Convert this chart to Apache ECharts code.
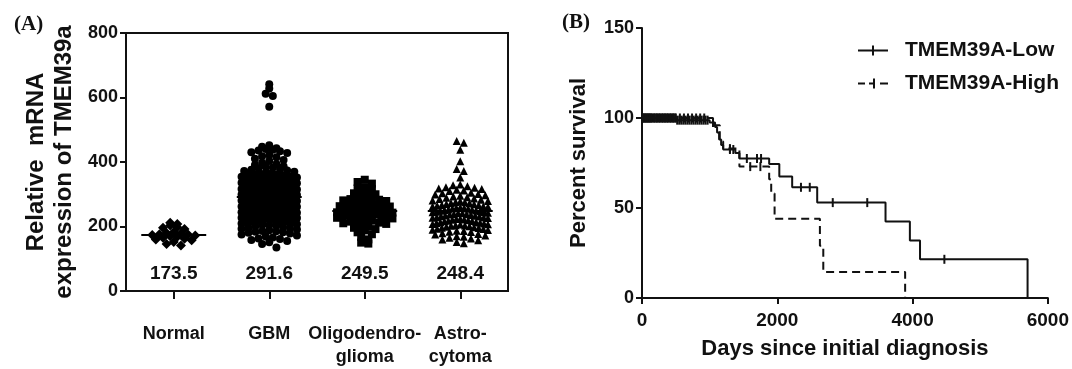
<!DOCTYPE html>
<html>
<head>
<meta charset="utf-8">
<script src="https://cdn.jsdelivr.net/npm/echarts@6/dist/echarts.min.js"></script>
<style>
html, body { margin: 0; background: #fff; }
#chart { width: 1072px; height: 369px; }
</style>
</head>
<body>
<div id="chart"></div>
<script>
// panel A: expression per tissue group
const groups = ['Normal', 'GBM', 'Oligodendro-\nglioma', 'Astro-\ncytoma'];
const groupMeans = [173.5, 291.6, 249.5, 248.4];
const groupSymbols = ['diamond', 'circle', 'rect', 'triangle'];

const normal = [212, 208, 203, 198, 196, 192, 183, 180, 178, 176, 175, 174, 172, 170, 168, 165, 162, 160, 157, 152, 146, 141];
const gbm = [
    641, 628, 612, 605, 571,
    452, 447, 443, 440, 438, 436, 433, 430,
    428, 422, 418, 415, 410, 406, 403,
    398, 394, 391, 387, 385, 383, 380,
    378, 376, 374, 372, 370, 368, 366, 364, 362, 361,
    359, 357, 355, 354, 352, 350, 348, 347, 345, 343, 342, 341,
    339, 337, 336, 334, 332, 331, 329, 327, 326, 324, 322, 321,
    319, 318, 316, 315, 313, 312, 310, 309, 307, 306, 304, 303, 302, 301,
    299, 298, 296, 295, 293, 292, 290, 289, 287, 286, 284, 283, 282, 281,
    279, 278, 276, 275, 273, 272, 270, 269, 267, 266, 264, 263, 262, 261,
    259, 258, 256, 255, 253, 252, 250, 249, 247, 246, 245, 244, 243, 242, 241,
    239, 237, 236, 234, 232, 231, 229, 228, 227, 226, 224, 222, 221,
    219, 217, 215, 215, 213, 211, 209, 207, 205, 205, 203, 201,
    198, 196, 195, 193, 191, 188, 186, 185, 184, 182, 181,
    178, 175, 172, 169, 166, 163, 161,
    158, 155, 151, 146,
    135
];
const oligo = [
    345, 338, 333, 322, 318, 316, 310, 306, 303, 300,
    292, 290, 287, 285, 283, 281, 279, 277,
    272, 270, 268, 266, 265, 263, 262, 260, 259, 258, 257, 255, 254, 253, 252, 251, 250,
    249, 248, 247, 246, 245, 244, 243, 242, 241, 240, 238, 237, 235, 233, 231, 230,
    227, 225, 222, 220, 218, 215, 212, 210, 208,
    203, 200, 196, 192, 188, 182, 176, 168, 160, 150, 147
];
const astro = [
    465, 460, 438, 402, 378, 372, 352,
    330, 328, 325, 322, 320, 318, 316, 314, 312, 310,
    305, 303, 301, 299, 297, 295, 293, 291, 289, 287, 285, 283, 281,
    279, 278, 276, 275, 273, 272, 270, 269, 267, 266, 264, 263, 262, 261,
    259, 258, 257, 256, 255, 253, 252, 251, 250, 249, 247, 246, 245, 244, 243, 242, 241,
    239, 238, 237, 236, 234, 233, 232, 231, 229, 228, 227, 226, 224, 223, 222, 221,
    219, 218, 217, 216, 214, 213, 212, 211, 209, 208, 207, 206, 204, 203, 202, 201,
    199, 198, 196, 195, 193, 192, 190, 189, 187, 186, 184, 183,
    179, 177, 175, 172, 170, 168, 165, 163, 160, 157, 152, 148
];
const groupValues = [normal, gbm, oligo, astro];

// panel B: Kaplan-Meier, event times and survival after each event
const lowTimes = [0, 500, 1000, 1080, 1110, 1140, 1170, 1200, 1380, 1440, 1880, 2030, 2220, 2590, 3600, 3960, 4110, 5700];
const lowSurv = [100, 98.8, 97.5, 95, 92, 88, 85, 82.5, 80.5, 77.5, 74.5, 67.5, 61.5, 53, 42.5, 32, 21.5, 0];
const lowCensor = [10, 25, 40, 55, 70, 85, 100, 115, 130, 150, 170, 190, 210, 230, 250, 270, 290, 310,
    330, 350, 370, 390, 410, 430, 450, 470, 490,
    520, 550, 580, 610, 640, 670, 700, 730, 760, 790, 820, 850, 880, 910, 940, 970,
    1050, 1300, 1350, 1550, 1700, 1760, 2350, 2480, 2820, 3330, 4470];
const highTimes = [0, 1050, 1150, 1200, 1440, 1880, 1910, 1960, 2630, 2680, 3890];
const highSurv = [100, 96, 87, 83, 73, 66, 58, 44, 29, 14.5, 0];
const highCensor = [20, 50, 80, 110, 140, 180, 220, 260, 300, 340, 380, 420, 460, 500, 560, 620, 680,
    740, 800, 860, 920, 1300, 1600, 1750];

const BIN = 18;
function swarm(values, center) {
    const rows = {};
    values.forEach((v) => {
        const k = Math.round(v / BIN);
        (rows[k] = rows[k] || []).push(v);
    });
    const out = [];
    Object.values(rows).forEach((row) => {
        const n = row.length;
        const step = n > 1 ? Math.min(0.075, 0.58 / (n - 1)) : 0;
        const slots = [];
        for (let j = 0; j < n; j++) slots.push(j);
        slots.sort((a, b) => Math.abs(a - (n - 1) / 2) - Math.abs(b - (n - 1) / 2) || a - b);
        row.forEach((v, i) => {
            out.push([center + (slots[i] - (n - 1) / 2) * step, v]);
        });
    });
    return out;
}

function survAt(times, surv, t) {
    let s = surv[0];
    for (let i = 0; i < times.length; i++) {
        if (times[i] <= t) s = surv[i];
    }
    return s;
}

const FONT = 'Liberation Sans, Arial, sans-serif';
const INK = '#111';
const axisLine = { show: true, lineStyle: { color: INK, width: 2 } };
const axisTick = { show: true, length: 6, lineStyle: { color: INK, width: 2 } };
const label = (size) => ({ color: INK, fontFamily: FONT, fontWeight: 'bold', fontSize: size });

const chart = echarts.init(document.getElementById('chart'), null, { renderer: 'canvas' });

const scatterSeries = groupValues.map((vals, i) => ({
    type: 'scatter',
    xAxisIndex: 1,
    yAxisIndex: 0,
    symbol: groupSymbols[i],
    symbolSize: i === 0 ? 10 : 8,
    itemStyle: { color: '#000', opacity: 1 },
    data: swarm(vals, i + 0.5),
    markLine: {
        silent: true,
        symbol: 'none',
        label: { show: false },
        lineStyle: { color: '#000', width: 2, type: 'solid', opacity: 1 },
        data: [[{ coord: [i + 0.5 - 0.34, groupMeans[i]] }, { coord: [i + 0.5 + 0.34, groupMeans[i]] }]]
    }
}));

// legend icons: line with a censor tick (30 x 10 box)
const lowIcon = 'path://M0,4H14V0H16V4H30V6H16V10H14V6H0Z';
const highIcon = 'path://M0,4H7V6H0Z M11,4H15V0H17V10H15V6H11Z M22,4H30V6H22Z';

chart.setOption({
    animation: false,
    title: [
        { text: '(A)', left: 9, top: 9, textStyle: { fontFamily: 'Liberation Serif, serif', fontWeight: 'bold', fontSize: 21, color: INK } },
        { text: '(B)', left: 557, top: 7, textStyle: { fontFamily: 'Liberation Serif, serif', fontWeight: 'bold', fontSize: 21, color: INK } }
    ],
    grid: [
        { left: 126, top: 33, width: 382, height: 261, show: true, borderColor: INK, borderWidth: 2 },
        { left: 642, top: 28, width: 406, height: 270 }
    ],
    legend: {
        orient: 'vertical',
        left: 853,
        top: 35,
        itemWidth: 30,
        itemHeight: 10,
        itemGap: 12,
        textStyle: Object.assign(label(21), { padding: [0, 0, 0, 12] }),
        data: [
            { name: 'TMEM39A-Low', icon: lowIcon },
            { name: 'TMEM39A-High', icon: highIcon }
        ]
    },
    xAxis: [
        {
            gridIndex: 0,
            type: 'category',
            data: groups,
            boundaryGap: true,
            axisLine: axisLine,
            axisTick: { show: true, alignWithLabel: true, length: 8, lineStyle: { color: INK, width: 2 } },
            axisLabel: Object.assign(label(18), { margin: 32, lineHeight: 23, interval: 0 }),
            splitLine: { show: false }
        },
        { gridIndex: 0, type: 'value', min: 0, max: 4, show: false },
        {
            gridIndex: 1,
            type: 'value',
            min: 0,
            max: 6000,
            interval: 2000,
            axisLine: axisLine,
            axisTick: axisTick,
            axisLabel: Object.assign(label(19), { margin: 13, formatter: (v) => String(v) }),
            splitLine: { show: false },
            name: 'Days since initial diagnosis',
            nameLocation: 'middle',
            nameGap: 40,
            nameTextStyle: label(22)
        }
    ],
    yAxis: [
        {
            gridIndex: 0,
            type: 'value',
            min: 0,
            max: 800,
            interval: 200,
            axisLine: axisLine,
            axisTick: axisTick,
            axisLabel: Object.assign(label(18), { margin: 8 }),
            splitLine: { show: false },
            name: 'Relative  mRNA\nexpression of TMEM39a',
            nameLocation: 'middle',
            nameRotate: 90,
            nameGap: 48,
            nameTextStyle: Object.assign(label(24), { lineHeight: 28 })
        },
        {
            gridIndex: 1,
            type: 'value',
            min: 0,
            max: 150,
            interval: 50,
            axisLine: axisLine,
            axisTick: axisTick,
            axisLabel: Object.assign(label(18), { margin: 8 }),
            splitLine: { show: false },
            name: 'Percent survival',
            nameLocation: 'middle',
            nameRotate: 90,
            nameGap: 52,
            nameTextStyle: label(22)
        }
    ],
    series: [
        ...scatterSeries,
        {
            type: 'scatter',
            xAxisIndex: 1,
            yAxisIndex: 0,
            silent: true,
            symbolSize: 0,
            itemStyle: { opacity: 1 },
            data: groupMeans.map((m, i) => [i + 0.5, 52, m]),
            label: Object.assign(label(19), {
                show: true,
                position: 'inside',
                formatter: (p) => p.value[2].toFixed(1)
            })
        },
        {
            name: 'TMEM39A-Low',
            type: 'line',
            xAxisIndex: 2,
            yAxisIndex: 1,
            step: 'end',
            showSymbol: false,
            itemStyle: { color: INK },
            lineStyle: { color: INK, width: 2 },
            data: lowTimes.map((t, i) => [t, lowSurv[i]])
        },
        {
            name: 'TMEM39A-High',
            type: 'line',
            xAxisIndex: 2,
            yAxisIndex: 1,
            step: 'end',
            showSymbol: false,
            itemStyle: { color: INK },
            lineStyle: { color: INK, width: 2, type: [8, 5] },
            data: highTimes.map((t, i) => [t, highSurv[i]])
        },
        {
            type: 'scatter',
            xAxisIndex: 2,
            yAxisIndex: 1,
            silent: true,
            symbol: 'rect',
            symbolSize: [2, 9],
            itemStyle: { color: INK, opacity: 1 },
            data: lowCensor.map((t) => [t, survAt(lowTimes, lowSurv, t)])
        },
        {
            type: 'scatter',
            xAxisIndex: 2,
            yAxisIndex: 1,
            silent: true,
            symbol: 'rect',
            symbolSize: [2, 9],
            itemStyle: { color: INK, opacity: 1 },
            data: highCensor.map((t) => [t, survAt(highTimes, highSurv, t)])
        }
    ]
});

window.addEventListener('resize', () => chart.resize());
</script>
</body>
</html>
